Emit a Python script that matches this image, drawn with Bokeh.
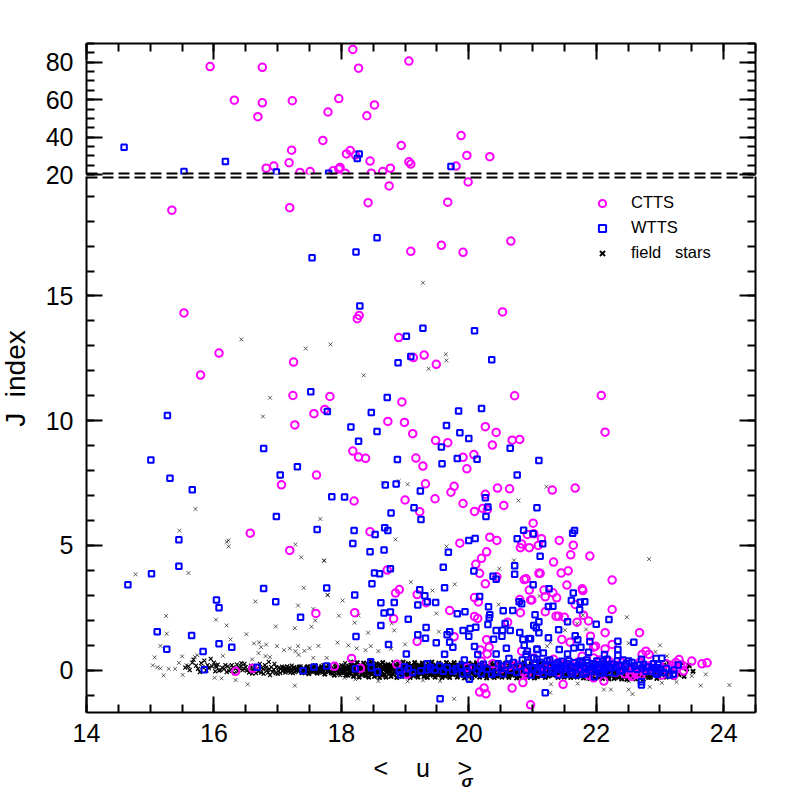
import math
from bokeh.plotting import figure
from bokeh.layouts import column
from bokeh.models import (LinearAxis, Range1d, SingleIntervalTicker, Span, Legend, LegendItem, Label)
from bokeh.embed import file_html
from bokeh.resources import INLINE

ctts_top = [(18.18,86.85),(15.94,77.7),(16.76,77.3),(18.27,76.8),(19.06,80.6),(16.32,59.7),(16.76,58.3),(17.23,59.4),(17.96,60.6),(17.79,53.4),(18.52,57.2),(18.40,51.4),(16.69,50.9),(17.71,38.2),(18.94,35.5),(17.22,33.0),(18.14,32.8),(18.08,31.0),(18.22,30.4),(18.45,27.2),(17.18,26.3),(19.06,26.8),(19.09,25.6),(16.94,24.5),(16.82,23.4),(17.98,23.8),(17.96,22.9),(17.87,22.0),(18.77,23.4),(18.65,21.6),(17.35,21.1),(17.51,21.6),(18.06,20.7),(18.47,20.7),(19.88,40.8),(19.97,30.2),(20.33,29.5),(19.80,24.5)]
wtts_top = [(14.59,34.6),(15.53,21.6),(16.18,27.0),(16.98,21.4),(17.80,20.7),(18.28,31.0),(18.25,28.5),(19.72,24.3)]

ctts_low = [(19.99,19.57),(19.67,18.76),(19.57,17.03),(19.91,16.75),(20.66,17.20),(18.75,19.41),(18.42,18.74),(17.19,18.54),(15.34,18.44),(19.09,16.79),
(15.53,14.32),(16.08,12.71),(15.79,11.83),(17.25,12.35),(17.24,11.01),(17.82,10.97),(17.74,10.45),(17.57,10.28),(17.27,9.83),(18.28,14.22),(18.25,14.09),(18.18,8.78),(18.27,8.54),(18.38,8.49),(17.61,7.82),(17.06,7.43),(18.20,6.78),
(20.53,14.36),(18.90,13.33),(19.13,12.53),(19.30,12.63),(19.49,12.26),(18.95,10.75),(20.72,11.00),(22.08,11.01),(22.14,9.54),(18.73,9.97),(18.99,9.93),(19.12,9.48),(19.48,9.21),(19.67,9.12),(20.26,9.76),(20.43,9.53),(20.37,9.02),(20.68,9.22),(20.80,9.25),(19.91,8.53),(20.08,8.64),(19.97,8.07),(19.17,8.50),(19.28,8.18),(19.32,7.47),(19.77,7.37),(19.72,7.13),(19.00,6.82),(19.47,6.87),(19.91,6.68),(20.26,7.05),(20.45,7.30),(20.64,7.27),(21.31,7.22),(21.67,7.30),(20.55,6.60),(20.22,6.48),(20.09,6.36),(20.29,6.43),(19.23,6.35),
(16.57,5.49),(17.19,4.80),(17.60,2.27),(16.34,-0.05),(16.61,0.07),
(18.45,5.55),(19.86,5.09),(20.33,5.33),(20.44,5.20),(20.92,5.44),(21.02,5.47),(20.83,5.06),(20.81,4.91),(20.95,4.91),(20.28,4.74),(20.20,4.48),(20.11,4.24),(20.17,3.88),(20.44,3.74),(20.26,3.46),(20.87,3.63),(20.90,3.66),(20.95,3.21),(18.72,4.01),(18.91,3.23),(18.85,3.09),(19.19,3.03),(20.09,2.91),(20.15,2.73),(20.97,2.81),(20.80,2.83),(20.81,2.30),(19.33,2.70),(18.21,2.30),(18.82,2.06),(19.70,2.39),(20.09,2.15),(20.14,2.07),(20.61,1.92),(19.77,1.34),(19.19,1.15),(20.28,1.22),(20.32,0.92),(20.18,0.81),(20.29,0.65),(20.83,0.76),(18.16,0.47),(17.89,0.15),(18.30,0.07),(18.87,0.23),(19.03,-0.17),(20.38,0.25),(20.63,0.16),(20.86,-0.08),(20.91,-0.17),(20.85,-0.50),(20.24,-0.72),(20.17,-0.88),(20.27,-0.95),(20.68,-0.72),(20.97,-1.39),(21.09,5.0),(21.1,3.88),
(21.01,5.89),(21.14,5.27),(21.42,5.20),(21.64,5.01),(21.60,4.62),(21.90,4.57),(21.33,4.33),(21.56,3.98),(21.45,3.89),(21.12,3.88),(22.25,3.61),(21.54,3.41),(21.78,3.26),(21.79,3.19),(21.18,3.21),(21.32,3.1),(21.20,2.94),(21.38,2.90),(21.67,2.63),(20.99,2.81),(22.25,2.43),(21.20,2.34),(21.37,2.16),(21.41,2.16),(21.50,2.12),(21.80,2.2),(21.88,1.97),(21.70,1.92),(22.14,1.50),(22.68,1.50),(21.91,1.36),(21.46,1.23),(21.59,1.12),(21.96,0.92),(21.99,0.96),(22.14,0.85),(22.25,1.03),(22.72,0.63),(22.78,0.76),(22.83,0.63),(23.30,0.42),(23.50,0.36),(23.66,0.25),(23.74,0.29),(21.48,-0.57),(22.12,-0.44),(21.96,-0.31),
(22.53,-0.17),(22.64,-0.17),(22.74,-0.04),(22.82,0.16),(23.03,0.09),(23.03,-0.2),(23.19,0.16),(23.27,0.09),(23.37,-0.04),(23.32,0.2),(22.59,0.09),(22.38,0.09),(22.22,0.23),(22.09,0.09),(21.78,0.56),(21.49,0.23),(21.17,0.09),(21.33,0.43),(21.02,0.49),(21.96,0.49),(21.65,-0.04),(21.80,-0.04),
(22.45,-0.15),(22.56,-0.25),(22.6,-0.05),(22.7,-0.2),(22.78,0.05),(22.88,0.2),(22.92,-0.05),(23.1,0.25),(23.15,0.05),(23.22,-0.2),(23.36,0.18),(23.25,0.3),(22.68,0.3),(22.4,0.3),(22.3,-0.1),(22.2,0.35),(22.05,0.4),(21.88,-0.2),(21.7,0.3),(21.58,0.05),(21.4,-0.1),(21.3,0.25),(21.1,-0.05),(20.95,0.3),(20.75,0.2),(20.5,0.05),(20.2,0.35),(19.98,0.1)]

wtts_low = [(18.56,17.33),(18.23,16.76),(17.54,16.53),
(18.29,14.60),(17.52,11.16),(17.78,10.37),(15.27,10.21),(18.47,10.33),(18.15,9.75),(18.56,9.57),(18.27,9.18),(16.78,8.88),(15.01,8.42),(17.31,8.15),(17.04,7.82),(15.31,7.69),(15.66,7.23),(17.85,6.95),(18.05,6.94),(16.98,6.16),
(19.28,13.71),(19.02,13.39),(20.09,13.61),(19.09,12.57),(18.89,12.32),(20.36,12.44),(18.72,10.93),(19.84,10.39),(20.20,10.49),(19.65,9.81),(19.86,9.52),(20.0,9.29),(19.57,8.94),(20.65,8.89),(18.88,8.44),(19.58,8.27),(19.82,8.48),(20.13,8.45),(21.10,8.40),(20.76,7.82),(18.69,7.42),(18.86,7.46),(19.24,7.18),(20.26,6.91),(19.14,6.51),(20.30,6.54),(21.07,6.51),(18.78,6.30),(20.27,6.16),(19.25,6.04),
(17.62,5.64),(15.45,5.23),(15.45,4.16),(15.02,3.86),(14.65,3.42),(16.78,3.27),(17.77,3.29),(16.04,2.81),(16.08,2.50),(16.97,2.74),(17.36,2.12),(15.11,1.54),(15.65,1.39),(15.26,0.84),(16.08,1.06),(16.28,0.92),(15.83,0.75),(15.85,0.01),(16.68,0.11),(17.40,-0.03),(17.57,0.12),(17.77,0.16),
(18.20,5.60),(18.68,5.71),(18.73,5.60),(18.53,5.44),(18.18,5.08),(18.45,4.74),(18.67,4.82),(19.68,4.72),(20.0,5.20),(20.10,5.28),(20.76,5.27),(20.86,5.61),(19.60,4.12),(20.08,3.97),(20.72,4.18),(20.72,3.84),(20.38,3.76),(20.43,3.64),(18.52,3.89),(18.60,3.86),(18.77,4.06),(18.48,3.46),(19.23,3.22),(19.62,3.30),(18.21,3.01),(19.31,2.98),(19.35,2.74),(19.48,2.71),(20.17,2.95),(18.62,2.70),(18.83,2.71),(19.20,2.61),(20.31,2.54),(20.79,2.74),(20.83,2.66),(18.67,2.29),(18.77,2.33),(19.05,2.04),(19.82,2.26),(19.94,2.34),(20.54,2.38),(20.69,2.39),(20.33,2.22),(20.32,2.10),(18.62,1.79),(19.33,1.71),(20.30,1.83),(20.57,1.87),(20.11,1.72),(20.02,1.67),(19.91,1.59),(20.43,1.59),(20.53,1.60),(20.65,1.59),(19.20,1.42),(19.66,1.42),(19.70,1.54),(20.00,1.36),(20.52,1.36),(18.23,1.35),(20.80,1.51),(19.32,1.28),(19.70,1.12),(19.49,1.10),(20.39,1.24),(20.85,1.24),(20.95,1.27),(18.74,1.03),(19.75,0.92),(20.09,0.95),(20.59,0.88),(20.87,1.0),(19.02,0.65),(19.62,0.64),(20.14,0.63),(20.43,0.65),(20.63,0.47),(20.92,0.76),(21.07,0.85),(20.90,0.63),(21.02,0.49),
(18.22,0.05),(18.46,0.33),(18.47,0.09),(18.57,-0.08),(18.99,0.13),(18.91,-0.04),(18.93,-0.19),(19.25,-0.03),(19.35,0.25),(19.35,0.01),(19.47,-0.0),(19.54,0.16),(19.75,-0.04),(19.93,0.40),(19.87,0.15),(19.97,-0.04),(20.01,-0.37),(20.13,-0.04),(20.23,0.23),(20.29,0.03),(20.36,-0.17),(20.52,0.16),(20.54,-0.15),(20.66,-0.01),(19.55,-1.15),
(21.66,5.60),(21.63,5.49),(21.01,5.47),(21.16,5.07),(21.12,4.56),(21.01,3.42),(21.26,3.26),(21.64,3.09),(21.61,2.79),(21.75,2.72),(21.82,2.74),(21.25,2.55),(21.32,2.56),(21.74,2.42),(22.20,2.03),(21.04,2.22),(21.10,1.94),(21.55,1.94),(22.00,1.84),(21.02,1.79),(21.06,1.70),(21.10,1.50),(21.41,1.62),(21.25,1.30),(21.67,1.38),(21.71,1.22),(21.90,1.15),(22.34,1.16),(22.59,1.12),(20.97,1.26),(21.65,0.89),(21.76,0.92),(21.42,0.83),(21.07,0.83),(22.34,0.83),(21.17,0.69),(21.55,0.65),(21.88,0.72),(22.13,0.63),(22.34,0.60),(22.94,0.47),(23.03,0.48),(22.71,0.43),(21.20,-0.91),(22.71,-0.47),(22.71,-0.60),(23.21,-0.17),(23.29,0.2),(22.95,0.09),(22.95,-0.17),(22.51,0.36),(21.53,-0.17),(21.17,-0.17),(21.02,0.09),(21.28,0.16),(21.38,0.09),
(21.49,0.16),(21.65,0.29),(21.75,0.03),(21.88,0.16),(22.01,0.36),(22.14,0.03),(22.27,0.23),(22.38,-0.04),(21.97,-0.27),(21.80,-0.17),(21.07,0.43),(21.23,0.36),(21.57,0.36),(21.75,0.36),(22.17,0.43),(22.33,0.36),(22.64,0.03),(22.74,0.23),(22.85,-0.04),(21.6,-0.05),(21.92,0.0),(22.05,-0.1),(22.2,0.1),(22.45,0.15),(21.3,-0.1),(21.4,0.3),(21.85,0.4),(22.42,0.4),(22.1,0.25),(21.95,0.25),
(19.05,0.05),(19.12,-0.1),(19.4,0.1),(19.6,-0.05),(19.66,0.1),(19.8,0.05),(19.9,-0.15),(20.05,0.1),(20.18,0.15),(20.2,-0.15),(20.42,-0.1),(20.46,0.25),(20.6,0.2),(20.7,0.3),(20.75,-0.1),(20.8,0.15),(20.84,0.4),(20.9,0.0),(20.94,0.3),(20.98,-0.2),(21.04,0.25),(21.08,-0.05),(21.12,0.3),(21.14,0.0),(21.2,0.22),(21.24,-0.05),(21.27,0.4),(21.33,0.0),(21.35,0.22),(21.41,-0.2),(21.44,0.08),(21.46,0.35),(21.52,0.05),(21.54,0.25),(21.6,0.15),(21.63,-0.15),(21.68,0.1),(21.7,-0.2),(21.72,0.2),(21.78,0.3),(21.82,0.05),(21.84,-0.1),(21.86,0.3),(21.94,0.1),(21.98,0.2),(22.03,0.02),(22.06,0.22),(22.08,-0.14),(22.11,0.35),(22.16,0.15),(22.2,-0.1),(22.24,0.1),(22.29,-0.12),(22.31,0.12),(22.36,0.18),(22.41,0.0),(22.47,0.25),(22.53,0.05),(22.56,0.3),(22.6,0.16),(22.68,0.2),(22.72,0.08),(22.78,-0.05),(22.8,0.12),(22.88,0.1),(22.9,0.25),(22.93,-0.1),(22.97,0.22),(23.0,0.0),(23.06,-0.1),(23.1,0.06),(23.15,-0.2),(23.22,0.0)]

field_sparse = [(16.43,13.26),(17.44,12.89),(17.83,13.06),(18.35,11.82),(16.88,10.92),(16.77,10.17),(15.71,6.46),(17.67,6.06),(19.28,15.53),(19.64,12.66),(19.65,12.42),(19.37,12.08),(18.65,7.51),(18.90,7.58),(19.04,7.45),(21.22,7.35),(20.78,6.80),
(15.46,5.59),(16.20,5.14),(16.23,5.2),(16.23,4.96),(17.28,5.04),(17.37,4.52),(17.73,4.38),(14.77,3.84),(15.60,3.89),(17.41,3.30),(17.79,3.01),(16.65,2.75),(17.32,2.59),(17.56,2.45),(17.59,1.99),(15.25,2.17),(16.03,2.02),(16.20,1.79),(16.97,1.75),(17.27,1.68),(17.53,1.74),(15.26,1.46),(16.51,1.44),(15.16,0.97),(16.26,1.23),(16.63,1.07),(16.71,1.11),(16.74,0.92),(16.82,1.02),(16.70,0.68),(16.99,0.96),(17.10,0.80),(17.19,0.87),(17.32,0.96),(17.28,0.76),(17.33,0.61),(17.42,0.77),(17.50,0.88),(17.64,0.97),(15.07,0.51),(15.50,0.55),(15.70,0.53),(15.74,0.60),(16.14,0.57),(16.60,0.43),(16.81,0.56),(16.88,0.52),(17.56,0.49),(17.77,0.49),(15.04,0.19),(15.11,0.11),(15.16,0.07),(15.29,0.05),(15.39,0.05),(15.45,0.29),(15.57,0.20),(15.51,-0.19),(15.21,-0.21),(16.01,-0.31),(16.12,-0.33),(16.34,-0.40),(16.53,-0.57),(17.27,-0.62),
(18.85,5.24),(17.73,4.40),(19.65,4.96),(20.48,4.06),(20.71,4.40),(19.09,3.53),(19.78,3.44),(19.43,3.19),(17.78,3.01),(18.02,2.79),(19.49,2.27),(18.27,2.19),(17.96,2.18),(20.47,2.63),(18.21,1.90),(18.79,1.87),(18.42,1.50),(18.83,1.59),(19.53,1.54),(17.94,1.10),(18.11,0.99),(18.24,0.87),(18.46,0.96),(19.00,1.03),(18.38,0.80),(18.58,0.76),(18.78,0.85),(18.26,-1.14),(19.77,-1.15),(19.04,-0.45),(19.28,-0.41),(19.55,-0.44),(18.05,-0.31),(18.22,-0.37),(18.58,-0.44),(20.01,-0.44),
(22.83,4.45),(22.48,2.12),(21.51,1.60),(21.84,1.63),(21.70,1.86),(21.02,4.93),(21.08,4.0),(21.11,2.97),(22.51,1.08),(23.0,0.99),(22.93,0.73),(21.28,1.10),(21.23,0.96),(21.79,2.2),(22.12,-0.78),(22.23,-0.78),(22.51,-0.78),(22.57,-0.96),(23.64,-0.62),(24.09,-0.60),(23.72,-0.17),(23.50,-0.24),(23.03,-0.51),(23.26,-0.48),(22.84,-0.67),(22.51,-0.44),(21.29,-0.57),(21.71,-0.54),(21.28,-0.91),(21.87,-0.37),(23.11,0.56)]

field_band = [(15.55,0.1),(15.6,0.15),(15.62,0.0),(15.66,0.3),(15.68,0.42),(15.72,0.18),(15.75,0.05),(15.78,-0.08),(15.8,0.28),(15.82,0.12),(15.85,0.38),(15.88,-0.02),(15.9,0.2),(15.92,0.08),(15.95,0.45),(15.97,0.15),(16.0,0.3),(16.02,-0.05),(16.04,0.12),(16.06,0.22),(16.1,0.0),(16.13,0.1),(16.16,0.05),(16.2,-0.08),(16.22,0.15),(16.26,0.02),(16.3,0.1),(16.32,-0.12),(16.36,0.22),(16.4,0.08),(16.43,0.28),(16.45,0.0),(16.48,0.25),(16.5,0.12),(16.55,-0.1),(16.58,0.18),(16.62,0.0),(16.66,-0.12),(16.7,-0.05),(16.72,0.25),(16.75,0.1),(16.78,-0.15),(16.8,0.2),(16.83,-0.02),(16.86,0.33),(16.88,-0.2),(16.9,0.12),(16.92,-0.08),(16.95,0.25),(17.0,-0.15),(17.02,0.1),(17.05,0.05),(17.08,-0.05),(17.1,0.12),(17.13,-0.02),(17.15,0.15),(17.18,0.02),(17.2,-0.1),(17.22,0.18),(17.25,0.05),(17.27,-0.08),(17.3,0.1),(17.33,-0.05),(17.36,0.15),(17.4,0.0),(17.43,-0.12),(17.45,0.1),(17.48,-0.05),(17.5,0.08),(17.55,-0.08),(17.58,0.12),(17.6,-0.02),(17.65,0.1),(17.7,-0.1),(17.72,0.2),(17.75,0.02),(17.78,0.12),(17.8,-0.08),(17.83,0.2),(17.86,-0.15),(17.88,0.05),(17.9,0.25),(17.92,-0.05),(17.95,0.12),(17.98,-0.2),(18.0,0.2),(18.02,0.0),(18.04,-0.12),(18.06,0.28),(18.08,0.1),
(16.03,0.18),(16.08,-0.02),(16.18,0.2),(16.24,-0.04),(16.28,0.2),(16.34,0.06),(16.38,-0.04),(16.42,0.16),(16.47,0.06),(16.52,-0.02),(16.57,0.06),(16.6,-0.14),(16.64,0.12),(16.68,0.06),(16.74,-0.1),(16.77,0.04),(16.82,0.1),(16.85,-0.1),(16.87,0.04),(16.94,0.02),(16.97,-0.12),(16.98,0.12),(17.01,-0.03),(17.04,-0.12),(17.07,0.14),(17.09,0.02),(17.12,-0.1),(17.14,0.06),(17.17,-0.06),(17.19,0.12),(17.21,0.0),(17.24,-0.12),(17.26,0.12),(17.29,-0.02)]

field_core = [(18.1,-0.2),(18.12,0.15),(18.14,-0.05),(18.15,0.32),(18.17,0.05),(18.19,-0.25),(18.2,0.2),(18.22,-0.1),(18.23,0.1),(18.25,0.3),(18.27,-0.02),(18.28,-0.28),(18.3,0.18),(18.32,-0.12),(18.33,0.06),(18.35,0.28),(18.37,-0.2),(18.38,0.12),(18.4,-0.05),(18.42,0.22),(18.43,-0.28),(18.45,0.0),(18.47,0.32),(18.48,-0.15),(18.5,0.14),(18.52,-0.25),(18.53,0.04),(18.55,0.25),(18.57,-0.1),(18.58,0.18),(18.6,-0.3),(18.62,0.08),(18.63,-0.05),(18.65,0.3),(18.67,-0.18),(18.68,0.12),(18.7,-0.28),(18.72,0.0),(18.73,0.22),(18.75,-0.12),(18.77,0.15),(18.78,-0.25),(18.8,0.05),(18.82,0.3),(18.83,-0.08),(18.85,0.18),(18.87,-0.3),(18.88,0.02),(18.9,0.25),(18.92,-0.15),(18.93,0.1),(18.95,-0.25),(18.97,0.32),(18.98,-0.02),(19.0,0.15),(19.02,-0.2),(19.03,0.06),(19.05,0.26),(19.07,-0.1),(19.08,-0.3),(19.1,0.18),(19.12,0.0),(19.13,-0.22),(19.15,0.3),(19.17,0.1),(19.18,-0.08),(19.2,-0.28),(19.22,0.2),(19.23,0.02),(19.25,-0.15),(19.27,0.28),(19.28,0.08),(19.3,-0.25),(19.32,0.15),(19.33,-0.05),(19.35,-0.3),(19.37,0.24),(19.38,0.04),(19.4,-0.18),(19.42,0.32),(19.43,0.12),(19.45,-0.08),(19.47,-0.28),(19.48,0.2),(19.5,0.0),(19.52,-0.2),(19.53,0.28),(19.55,0.08),(19.57,-0.12),(19.58,-0.3),(19.6,0.18),(19.62,-0.02),(19.63,-0.24),(19.65,0.3),(19.67,0.1),(19.68,-0.1),(19.7,-0.3),(19.72,0.22),(19.73,0.02),(19.75,-0.18),(19.77,0.3),(19.78,0.12),(19.8,-0.06),(19.82,-0.28),(19.83,0.2),(19.85,0.0),(19.87,-0.2),(19.88,0.28),(19.9,0.06),(19.92,-0.14),(19.93,-0.32),(19.95,0.18),(19.97,-0.02),(19.98,-0.24),(20.0,0.28),(20.02,0.1),(20.03,-0.1),(20.05,-0.3),(20.07,0.22),(20.08,0.02),(20.1,-0.18),(20.12,0.3),(20.13,0.12),(20.15,-0.06),(20.17,-0.28),(20.18,0.2),(20.2,0.0),(20.22,-0.2),(20.23,0.28),(20.25,0.06),(20.27,-0.14),(20.28,-0.32),(20.3,0.16),(20.32,-0.04),(20.33,-0.24),(20.35,0.28),(20.37,0.08),(20.38,-0.12),(20.4,-0.3),(20.42,0.2),(20.43,0.0),(20.45,-0.2),(20.47,0.3),(20.48,0.1),(20.5,-0.08),(20.52,-0.28),(20.53,0.18),(20.55,-0.02),(20.57,-0.22),(20.58,0.28),(20.6,0.08),(20.62,-0.12),(20.63,-0.3),(20.65,0.2),(20.67,0.0),(20.68,-0.2),(20.7,0.26),(20.72,0.06),(20.73,-0.14),(20.75,-0.32),(20.77,0.14),(20.78,-0.06),(20.8,-0.26),(20.82,0.24),(20.83,0.04),(20.85,-0.16),(20.87,0.3),(20.88,0.1),(20.9,-0.1),(20.92,-0.3),(20.93,0.18),(20.95,-0.02),(20.97,-0.22),(20.98,0.26),(21.0,0.06),(21.02,-0.14),(21.03,-0.32),(21.05,0.14),(21.07,-0.06),(21.08,-0.26),(21.1,0.22),(21.12,0.02),(21.13,-0.18),(21.15,0.28),(21.17,0.08),(21.18,-0.12),(21.2,-0.3),(21.22,0.14),(21.23,-0.04),(21.25,-0.24),(21.27,0.22),(21.3,0.02),(21.32,-0.2),(21.35,0.25),(21.37,-0.08),(21.4,-0.3),(21.42,0.12),(21.45,-0.15),(21.47,0.28),(21.5,-0.28),(21.52,0.05),(21.55,-0.12),(21.58,0.2),(21.6,-0.3),(21.62,0.0),(21.65,-0.18),(21.68,0.15),(21.7,-0.28),(21.72,0.02),(21.75,-0.14),(21.78,0.24),(21.8,-0.32),(21.83,0.06),(21.85,-0.2),(21.88,-0.04),(21.9,-0.34),(21.93,0.14),(21.95,-0.12),(21.98,-0.34),(22.0,0.05),(22.03,-0.24),(22.06,0.18),(22.08,-0.1),(22.1,-0.34),(22.13,0.1),(22.16,-0.2),(22.18,0.0),(22.2,-0.36),(22.23,0.14),(22.26,-0.14),(22.28,-0.34),(22.3,0.05),(22.33,-0.24),(22.36,-0.05),(22.4,-0.36),(22.43,0.1),(22.46,-0.18),(22.48,-0.38),(22.52,0.02),(22.55,-0.26),(22.58,-0.1),(22.62,-0.36),(22.66,0.05),(22.7,-0.25),(22.74,-0.36),(22.78,-0.08),(22.82,-0.3),(22.86,0.12),(22.9,-0.2),(22.95,-0.34),(22.98,0.02),(23.02,-0.15),(23.06,0.2),(23.1,-0.28),(23.14,0.28),(23.18,-0.05),(23.22,-0.3),(23.26,0.26),(23.3,-0.18),(23.34,0.3),(23.38,-0.25),(23.42,0.05),(23.46,0.18),(23.52,-0.05),
(17.31,0.02),(17.34,0.12),(17.38,-0.1),(17.41,0.06),(17.44,-0.02),(17.47,0.14),(17.49,-0.14),(17.52,0.0),(17.54,0.1),(17.57,-0.04),(17.59,0.18),(17.62,-0.12),(17.64,0.04),(17.67,-0.06),(17.69,0.14),(17.71,0.0),(17.74,-0.16),(17.76,0.08),(17.79,-0.02),(17.81,0.16),(17.84,-0.1),(17.87,0.02),(17.89,-0.2),(17.91,0.12),(17.93,0.04),(17.96,-0.12),(17.99,0.06),(18.01,-0.08),(18.03,0.14),(18.05,-0.02),(18.07,-0.2),(18.09,0.02),(18.11,0.08),(18.13,-0.14),(18.16,-0.02),(18.18,0.14),(18.21,0.0),(18.24,-0.16),(18.26,0.06),(18.29,-0.06),(18.31,0.04),(18.34,-0.16),(18.36,0.12),(18.39,-0.22),(18.41,0.05),(18.44,-0.12),(18.46,0.16),(18.49,0.0),(18.51,-0.08),(18.54,0.1),(18.56,-0.18),(18.59,-0.02),(18.61,0.22),(18.64,-0.2),(18.66,0.03),(18.69,0.18),(18.71,-0.08),(18.74,0.1),(18.76,-0.03),(18.79,0.16),(18.81,-0.16),(18.84,0.02),(18.86,0.12),(18.89,-0.1),(18.91,0.05),(18.94,-0.04),(18.96,0.14),(18.99,-0.18),(19.01,0.03),(19.04,-0.06),(19.06,0.12),(19.09,-0.16),(19.11,0.06),(19.14,-0.05),(19.16,0.2),(19.19,-0.18),(19.21,0.08),(19.24,-0.08),(19.26,0.14),(19.29,-0.1),(19.31,0.02),(19.34,0.12),(19.36,-0.14),(19.39,-0.02),(19.41,0.18),(19.44,-0.2),(19.46,0.05),(19.49,-0.12),(19.51,0.12),(19.54,-0.06),(19.56,0.2),(19.59,-0.16),(19.61,0.06),(19.64,-0.04),(19.66,0.16),(19.69,-0.2),(19.71,0.04),(19.74,-0.1),(19.76,0.12),(19.79,-0.02),(19.81,0.18),(19.84,-0.14),(19.86,0.08),(19.89,-0.08),(19.91,0.14),(19.94,-0.18),(19.96,0.04),(19.99,-0.12),(20.01,0.16),(20.04,-0.04),(20.06,0.08),(20.09,-0.22),(20.11,0.02),(20.14,0.16),(20.16,-0.14),(20.19,0.06),(20.21,-0.08),(20.24,0.14),(20.26,-0.22),(20.29,0.02),(20.31,0.12),(20.34,-0.12),(20.36,0.18),(20.39,-0.04),(20.41,0.06),(20.44,-0.24),(20.46,0.14),(20.49,-0.02),(20.51,0.1),(20.54,-0.14),(20.56,0.18),(20.59,-0.06),(20.61,0.02),(20.64,-0.2),(20.66,0.12),(20.69,-0.08),(20.71,0.16),(20.74,-0.02),(20.76,0.06),(20.79,-0.18),(20.81,0.1),(20.84,-0.08),(20.86,0.16),(20.89,-0.22),(20.91,0.02),(20.94,0.12),(20.96,-0.14),(20.99,0.16),(21.01,-0.04),(21.04,0.04),(21.06,-0.24),(21.09,0.12),(21.11,-0.08),(21.14,0.16),(21.16,-0.02),(21.19,0.06),(21.21,-0.16),(21.24,0.1),(21.26,-0.1),(21.29,0.14),(21.33,-0.04),(21.36,0.08),(21.39,-0.18),(21.43,0.02),(21.46,-0.08),(21.49,0.1),(21.53,-0.2),(21.56,0.06),(21.59,-0.06),(21.63,0.12),(21.66,-0.24),(21.69,0.02),(21.73,-0.08),(21.76,0.1),(21.79,-0.22),(21.82,0.0),(21.86,-0.1),(21.89,0.08),(21.92,-0.24),(21.96,0.0),(21.99,-0.14),(22.02,0.1),(22.05,-0.28),(22.09,-0.02),(22.12,-0.16),(22.15,0.04),(22.19,-0.3),(22.22,-0.06),(22.25,0.05),(22.29,-0.2),(22.32,-0.02),(22.35,-0.3),(22.39,-0.1),(22.42,0.04),(22.45,-0.28),(22.49,-0.06),(22.53,-0.18),(22.57,-0.32),(22.61,-0.04),(22.65,-0.18),(22.69,-0.3),(22.73,-0.02),(22.77,-0.2),(22.81,-0.1),(22.85,-0.28),(22.89,-0.04),(22.94,-0.18),(22.99,-0.28),(23.04,-0.08),(23.09,-0.2),(23.14,-0.1)]

FONT = "Liberation Sans"
PINK = "#ff00ff"
BLUE = "#0000ff"

def unzip(points):
    return [a for a, _ in points], [b for _, b in points]

def style_axis(ax, labels=True, ticks=None):
    ax.axis_line_color = "black"
    ax.axis_line_width = 2
    ax.major_tick_in = 16
    ax.major_tick_out = 0
    ax.minor_tick_in = 8
    ax.minor_tick_out = 0
    ax.major_tick_line_color = "black"
    ax.major_tick_line_width = 2
    ax.minor_tick_line_color = "black"
    ax.minor_tick_line_width = 2
    if labels:
        ax.major_label_text_font = FONT
        ax.major_label_text_font_size = "25px"
        ax.major_label_text_color = "black"
        ax.major_label_orientation = "horizontal"
    else:
        ax.major_label_overrides = {t: "" for t in ticks}
        ax.major_label_text_font_size = "2px"
        ax.major_label_standoff = 0

x_range = (14, 24.5)

top = figure(width=781, height=190,
             x_range=Range1d(*x_range), y_range=Range1d(20, 90),
             x_axis_location="above", y_axis_location="left",
             output_backend="svg", toolbar_location=None,
             min_border_left=86, min_border_right=26, min_border_top=43, min_border_bottom=16,
             background_fill_color=None, border_fill_color=None, outline_line_color=None)
top.grid.visible = False

low = figure(width=781, height=616,
             x_range=Range1d(*x_range), y_range=Range1d(-1.7, 19.79),
             x_axis_location="below", y_axis_location="left",
             output_backend="svg", toolbar_location=None,
             min_border_left=86, min_border_right=26, min_border_top=3, min_border_bottom=77,
             background_fill_color=None, border_fill_color=None, outline_line_color=None,
             margin=(-17, 0, 0, 0))
low.grid.visible = False

x_tick_values = [14, 16, 18, 20, 22, 24]
top.xaxis[0].ticker = SingleIntervalTicker(interval=2, num_minor_ticks=4)
style_axis(top.xaxis[0], labels=False, ticks=x_tick_values)
top.yaxis[0].ticker = SingleIntervalTicker(interval=20, num_minor_ticks=4)
style_axis(top.yaxis[0])
top.yaxis[0].major_label_standoff = 13
r = LinearAxis(ticker=SingleIntervalTicker(interval=20, num_minor_ticks=4))
style_axis(r, labels=False, ticks=[20, 40, 60, 80])
top.add_layout(r, "right")

low.xaxis[0].ticker = SingleIntervalTicker(interval=2, num_minor_ticks=4)
style_axis(low.xaxis[0])
low.xaxis[0].major_label_standoff = 11
low.yaxis[0].ticker = SingleIntervalTicker(interval=5, num_minor_ticks=5)
style_axis(low.yaxis[0])
low.yaxis[0].major_label_standoff = 13
r2 = LinearAxis(ticker=SingleIntervalTicker(interval=5, num_minor_ticks=5))
style_axis(r2, labels=False, ticks=[0, 5, 10, 15])
low.add_layout(r2, "right")

top.add_layout(Span(location=20, dimension="width", line_color="black", line_width=4, line_dash="11 5"))
low.add_layout(Span(location=19.79, dimension="width", line_color="black", line_width=4, line_dash="11 5"))

sx, sy = unzip(field_sparse)
low.scatter(sx, sy, marker="x", size=5.5, line_color="black", line_width=0.7, line_alpha=0.9)
bx, by = unzip(field_band)
low.scatter(bx, by, marker="x", size=5.5, line_color="black", line_width=1.2)
fx, fy = unzip(field_core)
f_r = low.scatter(fx, fy, marker="x", size=6, line_color="black", line_width=1.9)

cx, cy = unzip(ctts_low)
c_r = low.scatter(cx, cy, marker="circle", size=7.5, fill_color=None, line_color=PINK, line_width=2)
wx, wy = unzip(wtts_low)
w_r = low.scatter(wx, wy, marker="square", size=5.5, fill_color=None, line_color=BLUE, line_width=2)

tcx, tcy = unzip(ctts_top)
top.scatter(tcx, tcy, marker="circle", size=7.5, fill_color=None, line_color=PINK, line_width=2)
twx, twy = unzip(wtts_top)
top.scatter(twx, twy, marker="square", size=5.5, fill_color=None, line_color=BLUE, line_width=2)

legend = Legend(items=[LegendItem(label="CTTS", renderers=[c_r]),
                       LegendItem(label="WTTS", renderers=[w_r]),
                       LegendItem(label="field\u00a0\u00a0\u00a0stars", renderers=[f_r])],
                location=(506, 450), orientation="vertical", margin=0, padding=0,
                background_fill_color=None, border_line_color=None,
                glyph_width=20, glyph_height=18, label_standoff=19, spacing=6,
                label_text_font=FONT, label_text_font_size="16.5px", label_text_color="black")
low.add_layout(legend, "center")

# transparent sheet over the whole page that carries the axis titles
titles = figure(width=781, height=795, x_range=Range1d(0, 1), y_range=Range1d(0, 1),
                x_axis_location=None, y_axis_location=None,
                output_backend="svg", toolbar_location=None,
                min_border_left=0, min_border_right=0, min_border_top=0, min_border_bottom=0,
                background_fill_color=None, border_fill_color=None, outline_line_color=None,
                margin=(-789, 0, 0, 0), frame_align=False)
titles.grid.visible = False
titles.add_layout(Label(x=15, y=417, x_units="screen", y_units="screen",
                        text="J\u00a0\u00a0index", angle=math.pi / 2,
                        text_font=FONT, text_font_size="28px", text_color="black",
                        text_baseline="middle", text_align="center"))
titles.add_layout(Label(x=373, y=28, x_units="screen", y_units="screen",
                        text="<\u00a0\u00a0\u00a0\u00a0u\u00a0\u00a0\u00a0\u00a0>",
                        text_font=FONT, text_font_size="25px", text_color="black",
                        text_baseline="alphabetic", text_align="left"))
titles.add_layout(Label(x=461, y=14, x_units="screen", y_units="screen", text="\u03c3",
                        text_font=FONT, text_font_size="17px", text_font_style="bold italic",
                        text_color="black", text_baseline="alphabetic", text_align="left"))

layout = column(top, low, titles, spacing=0)
open("out.html", "w").write(file_html(layout, INLINE))
